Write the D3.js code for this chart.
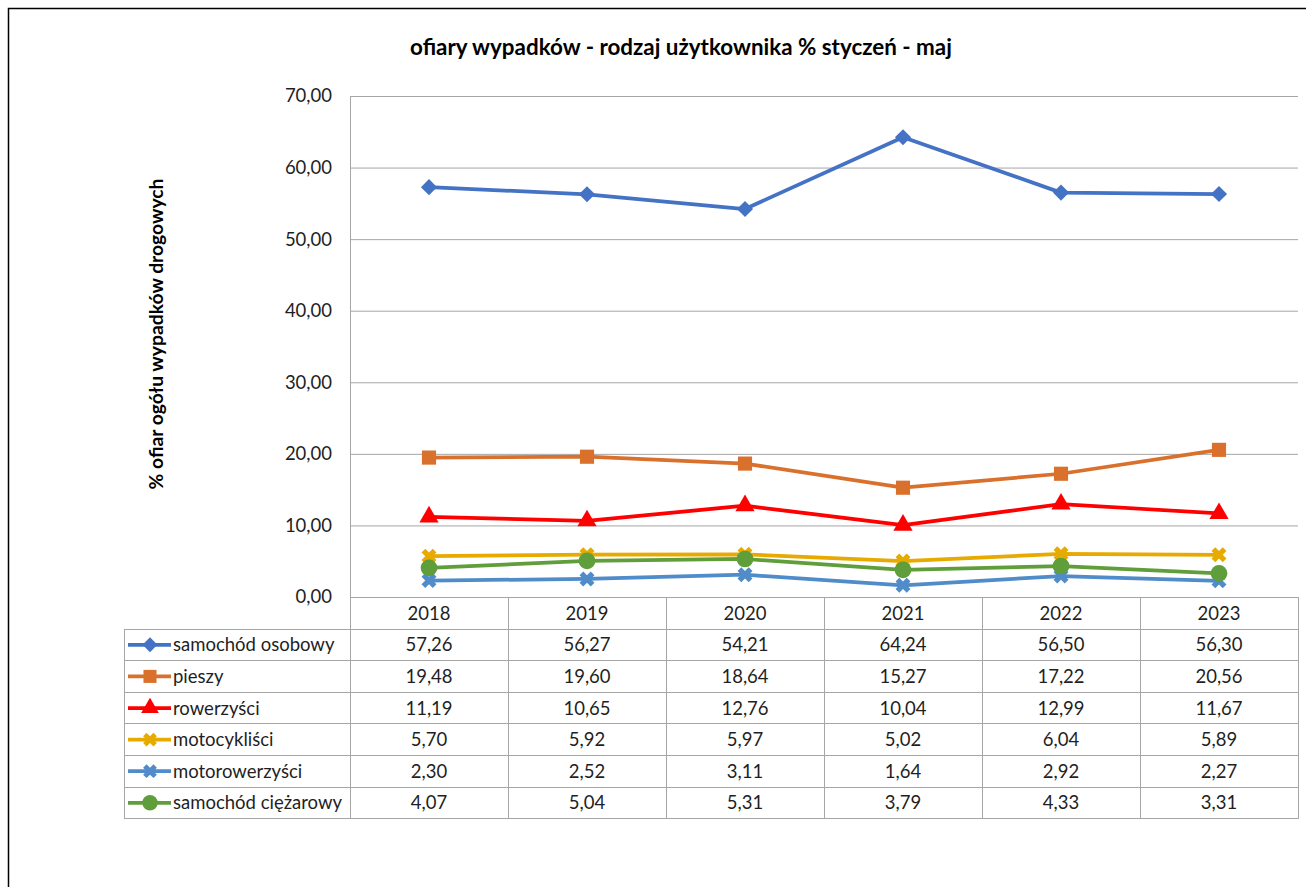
<!DOCTYPE html>
<html>
<head>
<meta charset="utf-8">
<script src="https://cdn.jsdelivr.net/npm/d3@7"></script>
<style>
  html, body { margin:0; padding:0; background:#fff; overflow:hidden; }
  svg { display:block; font-family: Lato, "Open Sans", sans-serif; }
</style>
</head>
<body>
<svg id="chart" width="1306" height="887"></svg>
<script>
// ---- data ----
const years = ['2018', '2019', '2020', '2021', '2022', '2023'];
const seriesNames = ['samochód osobowy', 'pieszy', 'rowerzyści', 'motocykliści', 'motorowerzyści', 'samochód ciężarowy'];
const osobowy    = [57.26, 56.27, 54.21, 64.24, 56.50, 56.30];
const pieszy     = [19.48, 19.60, 18.64, 15.27, 17.22, 20.56];
const rowerzysci = [11.19, 10.65, 12.76, 10.04, 12.99, 11.67];
const motocykl   = [5.70, 5.92, 5.97, 5.02, 6.04, 5.89];
const motorower  = [2.30, 2.52, 3.11, 1.64, 2.92, 2.27];
const ciezarowy  = [4.07, 5.04, 5.31, 3.79, 4.33, 3.31];
const yTicks = [0, 10, 20, 30, 40, 50, 60, 70];

const seriesValues = [osobowy, pieszy, rowerzysci, motocykl, motorower, ciezarowy];
const colors  = ['#4472C4', '#D9712D', '#FF0000', '#E6AA00', '#4F8CC9', '#5F9E3A'];
// diamond = square turned 45 degrees, x = cross turned 45 degrees
const symbols = [d3.symbolSquare, d3.symbolSquare, d3.symbolTriangle, d3.symbolCross, d3.symbolCross, d3.symbolCircle];
const symSize = [130, 200, 160, 140, 140, 220];
const symRot  = [45, 0, 0, 45, 45, 0];

const fmt = v => d3.format('.2f')(v).replace('.', ',');

const svg = d3.select('#chart');
const plot = { left:350, right:1298, top:96, bottom:597 };
const rowTop = 629, rowH = 31.6, legLeft = 124;
const grid = '#A6A6A6', txt = '#1f1f1f', fs = 18.5;

const x = d3.scaleBand().domain(years).range([plot.left, plot.right]).padding(0);
const y = d3.scaleLinear().domain([0, 70]).range([plot.bottom, plot.top]);
const cx = d => x(d) + x.bandwidth() / 2;

// outer frame (right and bottom edges run off the picture)
svg.append('rect').attr('x', 8.5).attr('y', 8.5).attr('width', 1320).attr('height', 900)
  .attr('fill', 'none').attr('stroke', '#000').attr('stroke-width', 1.5);

// title
svg.append('text').attr('x', 681).attr('y', 55).attr('text-anchor', 'middle')
  .attr('font-size', 22.4).attr('font-weight', 'bold').attr('fill', '#000')
  .text('ofiary wypadków - rodzaj użytkownika % styczeń - maj');

// y axis title
svg.append('text').attr('transform', 'translate(163,334) rotate(-90)').attr('text-anchor', 'middle')
  .attr('font-size', 19.3).attr('font-weight', 'bold').attr('fill', '#000')
  .text('% ofiar ogółu wypadków drogowych');

// gridlines + y axis
const yAxis = d3.axisLeft(y).tickValues(yTicks).tickSize(-(plot.right - plot.left)).tickFormat(fmt);
const ga = svg.append('g').attr('transform', 'translate(' + plot.left + ',0)').call(yAxis);
ga.select('.domain').attr('stroke', grid);
ga.selectAll('.tick line').attr('stroke', grid);
ga.selectAll('.tick text').attr('x', -18).attr('font-size', fs).attr('fill', txt).attr('font-family', 'Lato');

// table lines
const tbl = svg.append('g').attr('stroke', grid).attr('stroke-width', 1).attr('shape-rendering', 'crispEdges');
const tableBottom = rowTop + rowH * seriesNames.length;
tbl.append('line').attr('x1', plot.left).attr('x2', plot.right).attr('y1', plot.bottom).attr('y2', plot.bottom);
years.concat(['end']).forEach((yr, i) => {
  const xx = i < years.length ? x(yr) : plot.right;
  tbl.append('line').attr('x1', xx).attr('x2', xx).attr('y1', plot.bottom).attr('y2', tableBottom);
});
d3.range(seriesNames.length + 1).forEach(i => {
  tbl.append('line').attr('x1', legLeft).attr('x2', plot.right)
    .attr('y1', rowTop + i * rowH).attr('y2', rowTop + i * rowH);
});
tbl.append('line').attr('x1', legLeft).attr('x2', legLeft).attr('y1', rowTop).attr('y2', tableBottom);

// header years
svg.append('g').selectAll('text').data(years).enter().append('text')
  .attr('x', d => cx(d)).attr('y', (plot.bottom + rowTop) / 2 + 6.5).attr('text-anchor', 'middle')
  .attr('font-size', fs).attr('fill', txt).text(d => d);

// table rows
seriesNames.forEach((name, s) => {
  const ym = rowTop + rowH * s + rowH / 2;
  const row = svg.append('g');
  row.append('line').attr('x1', 128).attr('x2', 171).attr('y1', ym).attr('y2', ym)
    .attr('stroke', colors[s]).attr('stroke-width', 3.75);
  row.append('path').attr('d', d3.symbol().type(symbols[s]).size(symSize[s] * 0.85)())
    .attr('transform', 'translate(150,' + ym + ') rotate(' + symRot[s] + ')').attr('fill', colors[s]);
  row.append('text').attr('x', 173).attr('y', ym + 6.5).attr('font-size', fs).attr('fill', txt).text(name);
  row.selectAll('text.v').data(seriesValues[s]).enter().append('text').attr('class', 'v')
    .attr('x', (d, i) => cx(years[i])).attr('y', ym + 6.5).attr('text-anchor', 'middle')
    .attr('font-size', fs).attr('fill', txt).text(d => fmt(d));
});

// series lines + markers
const line = d3.line().x((d, i) => cx(years[i])).y(d => y(d));
seriesValues.forEach((vals, s) => {
  const g = svg.append('g');
  g.append('path').datum(vals).attr('d', line).attr('fill', 'none')
    .attr('stroke', colors[s]).attr('stroke-width', 3.75).attr('stroke-linejoin', 'round');
  g.selectAll('path.m').data(vals).enter().append('path').attr('class', 'm')
    .attr('d', d3.symbol().type(symbols[s]).size(symSize[s])())
    .attr('transform', (d, i) => 'translate(' + cx(years[i]) + ',' + y(d) + ') rotate(' + symRot[s] + ')')
    .attr('fill', colors[s]);
});
</script>
</body>
</html>
